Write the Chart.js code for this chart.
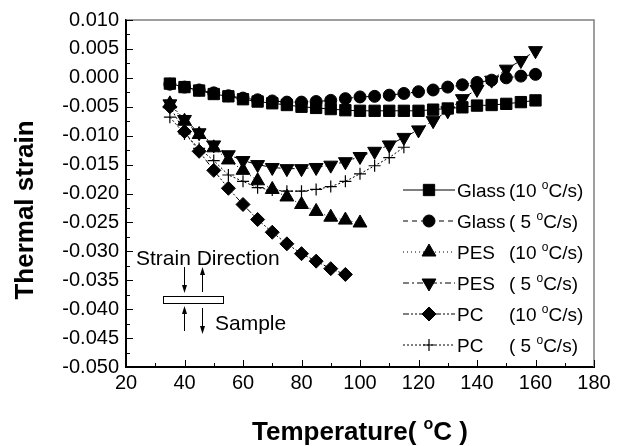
<!DOCTYPE html>
<html>
<head>
<meta charset="utf-8">
<script src="https://cdn.jsdelivr.net/npm/chart.js@4.4.1/dist/chart.umd.min.js"></script>
<style>
  body { margin: 0; background: #fff; }
  canvas { display: block; }
</style>
</head>
<body>
<canvas id="strain" width="618" height="446"></canvas>
<script>
// temperature (°C) for each series
const tempGlass10 = [35,40,45,50,55,60,65,70,75,80,85,90,95,100,105,110,115,120,125,130,135,140,145,150,155,160];
const tempGlass5 = [35,40,45,50,55,60,65,70,75,80,85,90,95,100,105,110,115,120,125,130,135,140,145,150,155,160];
const tempPes10 = [35,40,45,50,55,60,65,70,75,80,85,90,95,100];
const tempPes5 = [35,40,45,50,55,60,65,70,75,80,85,90,95,100,105,110,115,120,125,130,135,140,145,150,155,160];
const tempPc10 = [35,40,45,50,55,60,65,70,75,80,85,90,95];
const tempPc5 = [35,40,45,50,55,60,65,70,75,80,85,90,95,100,105,110,115];

// thermal strain
const glass10 = [-0.0010,-0.0016,-0.0022,-0.0028,-0.0032,-0.0037,-0.0041,-0.0044,-0.0047,-0.0050,-0.0052,-0.0054,-0.0056,-0.0057,-0.0057,-0.0057,-0.0057,-0.0057,-0.0055,-0.0053,-0.0051,-0.0048,-0.0047,-0.0045,-0.0042,-0.0039];
const glass5 = [-0.0011,-0.0016,-0.0021,-0.0026,-0.0031,-0.0035,-0.0038,-0.0040,-0.0042,-0.0042,-0.0041,-0.0039,-0.0036,-0.0033,-0.0032,-0.0030,-0.0027,-0.0024,-0.0021,-0.0016,-0.0012,-0.0008,-0.0004,0.0000,0.0003,0.0006];
const pes10 = [-0.0045,-0.0075,-0.0098,-0.0121,-0.0142,-0.0160,-0.0178,-0.0193,-0.0206,-0.0219,-0.0231,-0.0241,-0.0246,-0.0251];
const pes5 = [-0.0045,-0.0072,-0.0095,-0.0116,-0.0133,-0.0143,-0.0150,-0.0155,-0.0157,-0.0157,-0.0155,-0.0151,-0.0145,-0.0136,-0.0127,-0.0116,-0.0103,-0.0090,-0.0074,-0.0057,-0.0036,-0.0020,-0.0004,0.0015,0.0030,0.0047];
const pc10 = [-0.0050,-0.0093,-0.0127,-0.0160,-0.0191,-0.0219,-0.0245,-0.0267,-0.0287,-0.0304,-0.0317,-0.0330,-0.0340];
const pc5 = [-0.0068,-0.0097,-0.0122,-0.0143,-0.0168,-0.0179,-0.0190,-0.0194,-0.0196,-0.0196,-0.0193,-0.0188,-0.0179,-0.0166,-0.0152,-0.0138,-0.0120];

const legendNames = ["Glass", "Glass", "PES", "PES", "PC", "PC"];
const legendRates = ["(10 ", "( 5 ", "(10 ", "( 5 ", "(10 ", "( 5 "];

function pts(xs, ys) {
  return ys.map(function (v, i) { return { x: xs[i], y: v }; });
}

function series(label, xs, ys, style, radius, dash, rotation) {
  return {
    label: label,
    data: pts(xs, ys),
    showLine: true,
    borderColor: "#000",
    borderWidth: 1,
    borderDash: dash,
    pointStyle: style,
    pointRadius: radius,
    pointRotation: rotation || 0,
    pointBackgroundColor: "#000",
    pointBorderColor: "#000",
    pointBorderWidth: 1,
  };
}

const datasets = [
  series("Glass (10 °C/s)", tempGlass10, glass10, "rect", 8, []),
  series("Glass ( 5 °C/s)", tempGlass5, glass5, "circle", 6, [5, 4]),
  series("PES (10 °C/s)", tempPes10, pes10, "triangle", 8, [1, 3]),
  series("PES ( 5 °C/s)", tempPes5, pes5, "triangle", 8, [6, 3, 2, 3], 180),
  series("PC (10 °C/s)", tempPc10, pc10, "rectRot", 7, [6, 2, 2, 2, 2, 2]),
  series("PC ( 5 °C/s)", tempPc5, pc5, "cross", 6, [2, 2]),
];
datasets[5].pointBorderWidth = 1.2;

const FONT = "Arial, 'Liberation Sans', sans-serif";

// text with a raised small "o" before C
function degText(ctx, x, y, before, after, size, bold) {
  const w = bold ? "bold " : "";
  ctx.font = w + size + "px " + FONT;
  ctx.fillText(before, x, y);
  x += ctx.measureText(before).width;
  ctx.font = w + Math.round(size * 0.62) + "px " + FONT;
  ctx.fillText("o", x, y - size * 0.42);
  x += ctx.measureText("o").width;
  ctx.font = w + size + "px " + FONT;
  ctx.fillText(after, x, y);
}

function arrow(ctx, x, y1, y2) {
  const dir = y2 > y1 ? 1 : -1;
  ctx.beginPath();
  ctx.moveTo(x, y1);
  ctx.lineTo(x, y2 - dir * 6);
  ctx.stroke();
  ctx.beginPath();
  ctx.moveTo(x, y2);
  ctx.lineTo(x - 2.5, y2 - dir * 8);
  ctx.lineTo(x + 2.5, y2 - dir * 8);
  ctx.closePath();
  ctx.fill();
}

const decorations = {
  id: "decorations",
  afterDraw(chart) {
    const ctx = chart.ctx;
    const xs = chart.scales.x;
    const ys = chart.scales.y;
    const a = chart.chartArea;
    ctx.save();
    ctx.setLineDash([]);

    // top and right frame
    ctx.strokeStyle = "#7f7f7f";
    ctx.lineWidth = 1.5;
    ctx.beginPath();
    ctx.moveTo(a.left, a.top);
    ctx.lineTo(a.right, a.top);
    ctx.lineTo(a.right, a.bottom);
    ctx.stroke();

    // inward tick marks
    ctx.strokeStyle = "#000";
    ctx.lineWidth = 1;
    for (let t = 20; t <= 180; t += 10) {
      const px = Math.round(xs.getPixelForValue(t)) + 0.5;
      const len = t % 20 === 0 ? 7 : 4;
      ctx.beginPath();
      ctx.moveTo(px, a.bottom);
      ctx.lineTo(px, a.bottom - len);
      ctx.stroke();
    }
    for (let i = 0; i <= 24; i++) {
      const v = -0.05 + i * 0.0025;
      const py = Math.round(ys.getPixelForValue(v)) + 0.5;
      const len = i % 2 === 0 ? 7 : 4;
      ctx.beginPath();
      ctx.moveTo(a.left, py);
      ctx.lineTo(a.left + len, py);
      ctx.stroke();
    }

    // axis titles
    ctx.fillStyle = "#000";
    ctx.textBaseline = "alphabetic";
    const before = "Temperature( ";
    ctx.font = "bold 26px " + FONT;
    const w1 = ctx.measureText(before).width + ctx.measureText("C )").width;
    ctx.font = "bold 16px " + FONT;
    const w2 = ctx.measureText("o").width;
    degText(ctx, (a.left + a.right) / 2 - (w1 + w2) / 2, 440, before, "C )", 26, true);

    ctx.save();
    ctx.translate(33, 210);
    ctx.rotate(-Math.PI / 2);
    ctx.textAlign = "center";
    ctx.font = "bold 26px " + FONT;
    ctx.fillText("Thermal strain", 0, 0);
    ctx.restore();

    // legend
    ctx.textAlign = "left";
    for (let i = 0; i < datasets.length; i++) {
      const ds = datasets[i];
      const y = 190 + i * 31;
      ctx.strokeStyle = "#000";
      ctx.lineWidth = 1;
      ctx.setLineDash(ds.borderDash);
      ctx.beginPath();
      ctx.moveTo(403, y);
      ctx.lineTo(455, y);
      ctx.stroke();
      ctx.setLineDash([]);
      ctx.fillStyle = "#000";
      ctx.lineWidth = ds.pointBorderWidth;
      Chart.helpers.drawPoint(ctx, {
        pointStyle: ds.pointStyle,
        radius: ds.pointRadius,
        rotation: ds.pointRotation,
        borderWidth: ds.pointBorderWidth,
      }, 429, y);
      ctx.font = "19px " + FONT;
      ctx.fillText(legendNames[i], 457, y + 7);
      degText(ctx, 509, y + 7, legendRates[i], "C/s)", 19, false);
    }

    // sample sketch
    ctx.font = "21px " + FONT;
    ctx.fillText("Strain Direction", 136, 265);
    ctx.fillText("Sample", 215, 330);
    ctx.lineWidth = 1;
    ctx.strokeStyle = "#000";
    ctx.fillStyle = "#fff";
    ctx.fillRect(163.5, 296.5, 60, 7);
    ctx.strokeRect(163.5, 296.5, 60, 7);
    ctx.fillStyle = "#000";
    arrow(ctx, 184.5, 267, 293);
    arrow(ctx, 184.5, 331, 306);
    arrow(ctx, 202.5, 292, 267);
    arrow(ctx, 202.5, 308, 334);
    ctx.restore();
  },
};

const ctx = document.getElementById("strain");
const myChart = new Chart(ctx, {
  type: "scatter",
  data: { datasets: datasets },
  options: {
    responsive: false,
    animation: false,
    layout: { padding: { top: 20, right: 24, left: 0, bottom: 0 } },
    plugins: {
      legend: { display: false },
      tooltip: { enabled: false },
    },
    scales: {
      x: {
        type: "linear",
        min: 20,
        max: 180,
        afterFit: function (scale) { scale.height = 79; },
        grid: { display: false, drawTicks: false, tickLength: 0 },
        border: { display: true, color: "#000", width: 2 },
        ticks: {
          stepSize: 20,
          padding: 4,
          color: "#000",
          font: { family: FONT, size: 20 },
        },
      },
      y: {
        type: "linear",
        min: -0.05,
        max: 0.01,
        afterFit: function (scale) { scale.width = 126; },
        grid: { display: false, drawTicks: false, tickLength: 0 },
        border: { display: true, color: "#000", width: 2 },
        ticks: {
          stepSize: 0.005,
          padding: 7,
          color: "#000",
          font: { family: FONT, size: 20 },
          callback: function (v) { return v.toFixed(3); },
        },
      },
    },
  },
  plugins: [decorations],
});
</script>
</body>
</html>
